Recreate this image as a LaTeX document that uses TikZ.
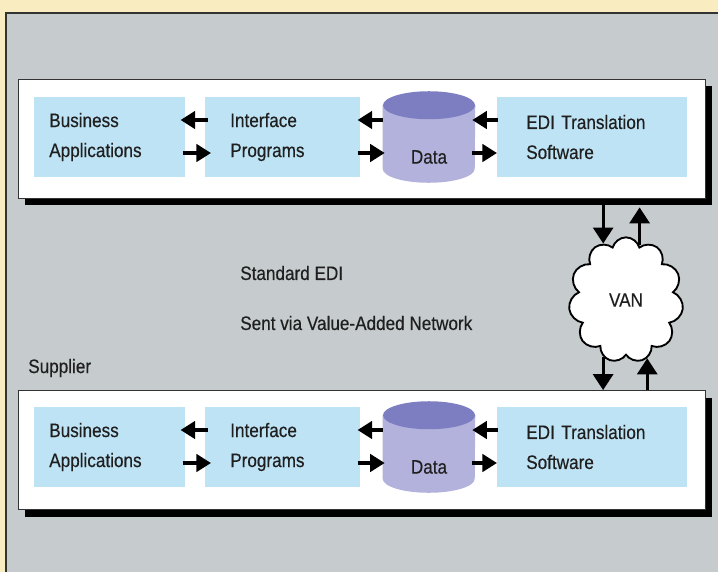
\documentclass[tikz,border=0pt]{standalone}
\usepackage{fontspec}
\setmainfont{Liberation Sans}[FakeStretch=0.88, FakeBold=0.4]
\usetikzlibrary{arrows.meta,shapes.symbols,shadows}
\definecolor{cream}{HTML}{FAECC1}
\definecolor{panelgray}{HTML}{C6CBCE}
\definecolor{boxblue}{HTML}{BEE3F4}
\definecolor{dattop}{HTML}{7D7EC2}
\definecolor{datbody}{HTML}{B3B2DC}
\tikzset{
    every node/.style={font=\fontsize{14.6pt}{22.5pt}\selectfont, text=black!88},
    frame/.style={draw=black!80, fill=white, line width=0.6pt, minimum width=515.25pt, minimum height=89.25pt,
        drop shadow={shadow xshift=5.25pt, shadow yshift=-5.25pt, fill=black, opacity=1}},
    blk/.style 2 args={fill=boxblue, anchor=west, text width=#1, inner xsep=#2, minimum height=60pt, align=left},
    datshape/.style={minimum width=69pt, minimum height=68.25pt, inner sep=0pt},
    lbl/.style={anchor=west, inner sep=0pt},
    flow/.style={line width=3pt, -{Triangle[length=11pt,width=13pt]}},
    vanflow/.style={line width=2.3pt, -{Triangle[length=12pt,width=15pt]}}
}
\begin{document}
\begin{tikzpicture}[x=0.75pt, y=-0.75pt]
    \useasboundingbox (0,0) rectangle (718,572);
    \fill[cream] (0,0) rectangle (718,572);
    \fill[panelgray] (6,13) rectangle (718,572);
    \draw[black!80, line width=0.8pt] (6,572) -- (6,13) -- (718,13);
    % upper row
    \node[frame] (upframe) at (361.5,138.5) {};
    \node[blk={90.75pt}{11.25pt}] (bizup) at (34,137) {Business\\Applications};
    \node[blk={78.75pt}{18.75pt}] (intfup) at (205,137) {Interface\\Programs};
    \node[blk={99pt}{21.75pt}] (ediup) at (497,137) {EDI Translation\\Software};
    \node[datshape] (datup) at (429,137) {};
    \fill[datbody] ([yshift=-10.5pt]datup.north west) -- ([yshift=10.5pt]datup.south west)
        arc[start angle=180, end angle=360, x radius=34.5pt, y radius=10.5pt] -- ([yshift=-10.5pt]datup.north east) -- cycle;
    \fill[dattop] ([yshift=-10.5pt]datup.north) ellipse [x radius=34.5pt, y radius=10.5pt];
    \node (datlblup) at ([yshift=-15pt]datup.center) {Data};
    \draw[flow] ([xshift=2.25pt,yshift=12.75pt]intfup.west) -- ([xshift=-3.75pt,yshift=12.75pt]bizup.east);
    \draw[flow] ([xshift=-2.25pt,yshift=-12pt]bizup.east) -- ([xshift=4.5pt,yshift=-12pt]intfup.west);
    \draw[flow] ([yshift=12.75pt]datup.west) -- ([xshift=-2.25pt,yshift=12.75pt]intfup.east);
    \draw[flow] ([xshift=-2.25pt,yshift=-12pt]intfup.east) -- ([xshift=1.5pt,yshift=-12pt]datup.west);
    \draw[flow] ([xshift=0.75pt,yshift=12.75pt]ediup.west) -- ([xshift=-2.25pt,yshift=12.75pt]datup.east);
    \draw[flow] ([xshift=-2.25pt,yshift=-12pt]datup.east) -- ([yshift=-12pt]ediup.west);
    % lower row
    \node[frame] (loframe) at (361.5,450) {};
    \node[blk={90.75pt}{11.25pt}] (bizlo) at (34,447) {Business\\Applications};
    \node[blk={78.75pt}{18.75pt}] (intflo) at (205,447) {Interface\\Programs};
    \node[blk={99pt}{21.75pt}] (edilo) at (497,447) {EDI Translation\\Software};
    \node[datshape] (datlo) at (429,447) {};
    \fill[datbody] ([yshift=-10.5pt]datlo.north west) -- ([yshift=10.5pt]datlo.south west)
        arc[start angle=180, end angle=360, x radius=34.5pt, y radius=10.5pt] -- ([yshift=-10.5pt]datlo.north east) -- cycle;
    \fill[dattop] ([yshift=-10.5pt]datlo.north) ellipse [x radius=34.5pt, y radius=10.5pt];
    \node (datlbllo) at ([yshift=-15pt]datlo.center) {Data};
    \draw[flow] ([xshift=2.25pt,yshift=12.75pt]intflo.west) -- ([xshift=-3.75pt,yshift=12.75pt]bizlo.east);
    \draw[flow] ([xshift=-2.25pt,yshift=-12pt]bizlo.east) -- ([xshift=4.5pt,yshift=-12pt]intflo.west);
    \draw[flow] ([yshift=12.75pt]datlo.west) -- ([xshift=-2.25pt,yshift=12.75pt]intflo.east);
    \draw[flow] ([xshift=-2.25pt,yshift=-12pt]intflo.east) -- ([xshift=1.5pt,yshift=-12pt]datlo.west);
    \draw[flow] ([xshift=0.75pt,yshift=12.75pt]edilo.west) -- ([xshift=-2.25pt,yshift=12.75pt]datlo.east);
    \draw[flow] ([xshift=-2.25pt,yshift=-12pt]datlo.east) -- ([yshift=-12pt]edilo.west);
    % network
    \node[cloud, cloud puffs=11, cloud ignores aspect, draw, fill=white, line width=1.4pt,
        minimum width=86pt, minimum height=94pt] (van) at (626,300) {VAN};
    \draw[vanflow] ([yshift=-5.25pt]upframe.south -| van.112) -- (van.112);
    \draw[vanflow] (van.76) -- ([yshift=-6.75pt]upframe.south -| van.76);
    \draw[vanflow] (van.248) -- (loframe.north -| van.248);
    \draw[vanflow] (loframe.north -| van.290) -- (van.290);
    \node[lbl] (std) at (240,273) {Standard EDI};
    \node[lbl] (sent) at (240,323) {Sent via Value-Added Network};
    \node[lbl] (supp) at (28,368) {Supplier};
\end{tikzpicture}
\end{document}
